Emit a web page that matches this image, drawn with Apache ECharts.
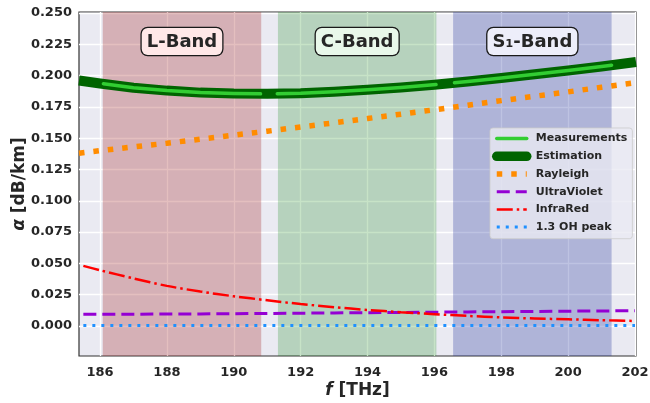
<!DOCTYPE html>
<html><head><meta charset="utf-8">
<script src="https://cdn.jsdelivr.net/npm/echarts@6/dist/echarts.min.js"></script>
<style>html,body{margin:0;padding:0;background:#fff}#c{width:650px;height:403px}</style>
</head><body><div id="c"></div>
<script>
// ---- data ----
const xTicks = [186, 188, 190, 192, 194, 196, 198, 200, 202];
const yTicks = [0, 0.025, 0.05, 0.075, 0.1, 0.125, 0.15, 0.175, 0.2, 0.225, 0.25];

const bandNames = ['L-Band', 'C-Band', 'S\u2081-Band'];
const bandStart = [186.08, 191.32, 196.56];
const bandEnd = [190.82, 196.06, 201.30];

const freq = [185.37, 186, 187, 188, 189, 190, 191, 192, 193, 194, 195, 196, 197, 198, 199, 200, 201, 202.03];
const estimation = [0.1961, 0.1937, 0.1903, 0.1880, 0.1864, 0.1856, 0.1854, 0.1858, 0.1870, 0.1886, 0.1905, 0.1927, 0.1952, 0.1980, 0.2010, 0.2040, 0.2072, 0.2108];
const rayleigh = [0.1380, 0.1400, 0.1430, 0.1460, 0.1492, 0.1524, 0.1556, 0.1589, 0.1623, 0.1657, 0.1692, 0.1727, 0.1763, 0.1800, 0.1835, 0.1870, 0.1907, 0.1944];

const measFreq = [186.1, 187, 188, 189, 190, 190.8, 191.05, 191.3, 192, 193, 194, 195, 196.05, 196.3, 196.6, 197, 198, 199, 200, 201, 201.3];
const measurements = [0.1935, 0.1903, 0.1880, 0.1864, 0.1856, 0.1854, null, 0.1855, 0.1858, 0.1870, 0.1886, 0.1905, 0.1928, null, 0.1943, 0.1952, 0.1980, 0.2010, 0.2040, 0.2072, 0.2082];

const compFreq = [185.5, 186, 187, 188, 189, 190, 191, 192, 193, 194, 195, 196, 197, 198, 199, 200, 201, 202];
const ultraViolet = [0.0093, 0.0093, 0.0094, 0.0095, 0.0096, 0.0098, 0.0100, 0.0102, 0.0104, 0.0106, 0.0108, 0.0110, 0.0112, 0.0114, 0.0116, 0.0118, 0.0120, 0.0122];
const infraRed = [0.0480, 0.0445, 0.0380, 0.0320, 0.0275, 0.0237, 0.0205, 0.0175, 0.0150, 0.0128, 0.0110, 0.0094, 0.0080, 0.0068, 0.0060, 0.0053, 0.0046, 0.0040];
const ohPeak = [0.0003, 0.0003, 0.0003, 0.0003, 0.0003, 0.0003, 0.0003, 0.0003, 0.0003, 0.0003, 0.0003, 0.0003, 0.0003, 0.0003, 0.0003, 0.0003, 0.0003, 0.0003];

// ---- chart ----
const FONT = 'DejaVu Sans';
const TXT = '#262626';
const zip = (xs, ys) => xs.map((x, i) => [x, ys[i] === null ? '-' : ys[i]]);

const bandColors = ['rgba(165,42,42,0.30)', 'rgba(0,128,0,0.22)', 'rgba(20,40,150,0.28)'];
const boxColors = ['#FFE8E8', '#E9F8EA', '#EDEEFA'];

const chart = echarts.init(document.getElementById('c'), null, {renderer: 'canvas'});
chart.setOption({
  animation: false,
  textStyle: {fontFamily: FONT},
  grid: {left: 79, right: 14, top: 12, bottom: 47, show: true, containLabel: false, outerBoundsMode: 'none',
         backgroundColor: '#EAEAF2', borderColor: '#333', borderWidth: 1.2},
  xAxis: {
    type: 'value', min: 185.37, max: 202.03,
    name: '{i|f} [THz]', nameLocation: 'middle', nameGap: 26, nameMoveOverlap: false,
    nameTextStyle: {fontFamily: FONT, fontSize: 17, fontWeight: 'bold', color: TXT,
      rich: {i: {fontFamily: FONT, fontSize: 17, fontWeight: 'bold', fontStyle: 'italic', color: TXT}}},
    axisLine: {show: false},
    axisTick: {show: false, customValues: xTicks},
    axisLabel: {customValues: xTicks, fontFamily: FONT, fontSize: 13, fontWeight: 'bold', color: TXT, margin: 10},
    splitLine: {show: true, lineStyle: {color: '#fff', width: 1.3}}
  },
  yAxis: {
    type: 'value', min: -0.024, max: 0.2508,
    name: '{i|\u03b1} [dB/km]', nameLocation: 'middle', nameGap: 51, nameMoveOverlap: false,
    nameTextStyle: {fontFamily: FONT, fontSize: 17, fontWeight: 'bold', color: TXT,
      rich: {i: {fontFamily: FONT, fontSize: 17, fontWeight: 'bold', fontStyle: 'italic', color: TXT}}},
    axisLine: {show: false},
    axisTick: {show: false, customValues: yTicks},
    axisLabel: {customValues: yTicks, fontFamily: FONT, fontSize: 13, fontWeight: 'bold', color: TXT, margin: 7,
      formatter: v => v.toFixed(3)},
    splitLine: {show: true, lineStyle: {color: '#fff', width: 1.3}}
  },
  legend: {
    orient: 'vertical', left: 490, top: 128,
    padding: [5, 5, 6, 2], itemGap: 6.5, itemWidth: 30, itemHeight: 14,
    backgroundColor: 'rgba(234,234,242,0.8)', borderColor: 'rgba(204,204,204,0.8)', borderWidth: 1, borderRadius: 3,
    textStyle: {fontFamily: FONT, fontWeight: 'bold', fontSize: 11, color: TXT, padding: [0, 0, 0, 4]},
    itemStyle: {color: 'rgba(0,0,0,0)', borderWidth: 0},
    data: [
      {name: 'Measurements', lineStyle: {width: 3.5, cap: 'round'}},
      {name: 'Estimation', lineStyle: {width: 9.5, cap: 'round'}},
      {name: 'Rayleigh', lineStyle: {width: 5.5}},
      {name: 'UltraViolet', lineStyle: {width: 3}},
      {name: 'InfraRed', lineStyle: {width: 2.5}},
      {name: '1.3 OH peak', lineStyle: {width: 3}}
    ]
  },
  series: [
    {
      name: 'bands', type: 'line', data: [], silent: true,
      markArea: {
        silent: true,
        data: bandNames.map((n, i) => [
          {name: n, xAxis: bandStart[i], itemStyle: {color: bandColors[i]},
           label: {show: true, position: 'insideTop', distance: 16, color: TXT, fontFamily: FONT, fontSize: 18, fontWeight: 'bold',
                   backgroundColor: boxColors[i], borderColor: '#1a1a1a', borderWidth: 1.3, borderRadius: 6,
                   padding: [4, 5, 3, 5], lineHeight: 20}},
          {xAxis: bandEnd[i]}
        ])
      }
    },
    {name: 'Estimation', type: 'line', data: zip(freq, estimation), showSymbol: false, symbol: 'none',
     lineStyle: {color: '#006400', width: 10, cap: 'butt', join: 'round'}, itemStyle: {color: '#006400'}},
    {name: 'Measurements', type: 'line', data: zip(measFreq, measurements), showSymbol: false, symbol: 'none', connectNulls: false,
     lineStyle: {color: '#32CD32', width: 3.5, cap: 'round', join: 'round'}, itemStyle: {color: '#32CD32'}},
    {name: 'Rayleigh', type: 'line', data: zip(freq, rayleigh), showSymbol: false, symbol: 'none',
     lineStyle: {color: '#FF8C00', width: 5.5, type: [5.5, 9], cap: 'butt'}, itemStyle: {color: '#FF8C00'}},
    {name: 'UltraViolet', type: 'line', data: zip(compFreq, ultraViolet), showSymbol: false, symbol: 'none',
     lineStyle: {color: '#9400D3', width: 3, type: [13, 6]}, itemStyle: {color: '#9400D3'}},
    {name: 'InfraRed', type: 'line', data: zip(compFreq, infraRed), showSymbol: false, symbol: 'none', smooth: 0.3,
     lineStyle: {color: '#FF0000', width: 2.5, type: [16, 4, 2.5, 4]}, itemStyle: {color: '#FF0000'}},
    {name: '1.3 OH peak', type: 'line', data: zip(compFreq, ohPeak), showSymbol: false, symbol: 'none',
     lineStyle: {color: '#1E90FF', width: 3, type: [3, 6]}, itemStyle: {color: '#1E90FF'}}
  ]
});
</script>
</body></html>
